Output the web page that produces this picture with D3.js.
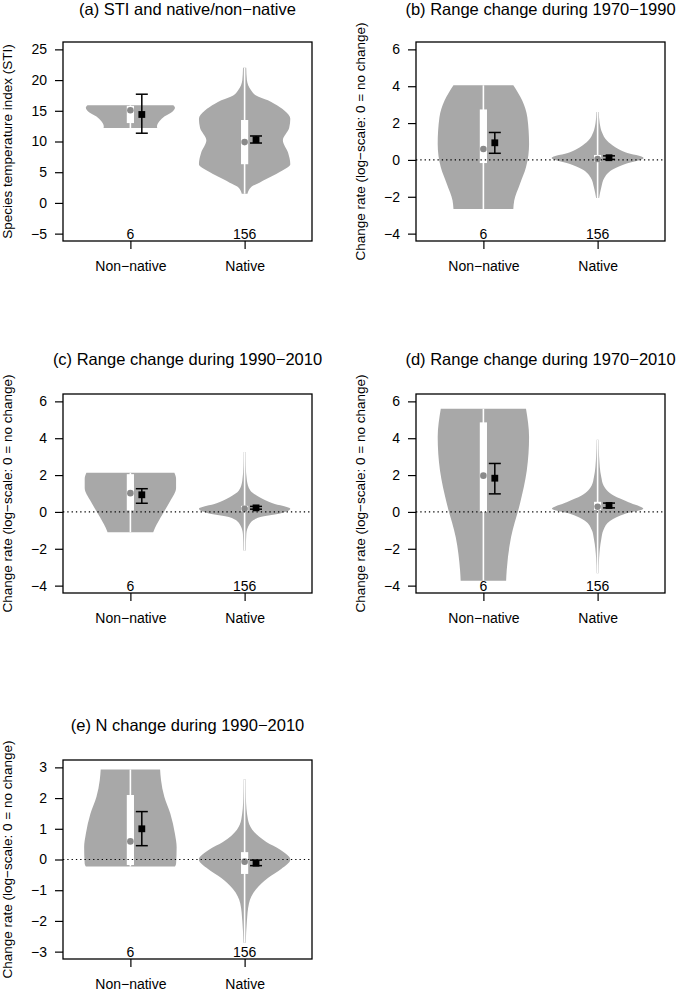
<!DOCTYPE html>
<html>
<head>
<meta charset="utf-8">
<script src="https://cdn.jsdelivr.net/npm/d3@7"></script>
<style>
    body { margin: 0; background: #fff; }
    text { font-family: "Liberation Sans", Arial, Helvetica, sans-serif; fill: #000; }
</style>
</head>
<body>
<div id="chart"></div>
<script>
const categories = ["Non-native", "Native"]
const counts = [6, 156]

const titles = [
    "(a) STI and native/non\u2212native",
    "(b) Range change during 1970\u22121990",
    "(c) Range change during 1990\u22122010",
    "(d) Range change during 1970\u22122010",
    "(e) N change during 1990\u22122010"
]
const yLabels = [
    "Species temperature index (STI)",
    "Change rate (log\u2212scale: 0 = no change)",
    "Change rate (log\u2212scale: 0 = no change)",
    "Change rate (log\u2212scale: 0 = no change)",
    "Change rate (log\u2212scale: 0 = no change)"
]
const yLimits = [[-5, 25], [-4, 6], [-4, 6], [-4, 6], [-3, 3]]
const yTicks = [
    [-5, 0, 5, 10, 15, 20, 25],
    [-4, -2, 0, 2, 4, 6],
    [-4, -2, 0, 2, 4, 6],
    [-4, -2, 0, 2, 4, 6],
    [-3, -2, -1, 0, 1, 2, 3]
]
const zeroLine = [false, true, true, true, true]

// violin outlines: [value, half-width in category units]
const violinNonNative = [
    [[12.2, 0.235], [12.5, 0.233], [13.3, 0.254], [14.1, 0.30], [14.9, 0.37], [15.5, 0.39], [15.9, 0.375]],
    [[-2.67, 0.262], [-2.2, 0.27], [-1.3, 0.32], [-0.4, 0.373], [0.87, 0.40], [2.3, 0.385], [3.22, 0.34], [4.05, 0.262]],
    [[-1.1, 0.20], [-0.86, 0.216], [-0.14, 0.28], [0.6, 0.35], [1.3, 0.40], [1.8, 0.40], [2.12, 0.385]],
    [[-3.73, 0.199], [-3.18, 0.204], [-1.37, 0.242], [0.44, 0.32], [2.25, 0.38], [4.06, 0.40], [5.6, 0.373]],
    [[-0.23, 0.39], [-0.14, 0.40], [0.4, 0.405], [0.84, 0.39], [1.49, 0.35], [2.04, 0.297], [2.59, 0.268], [2.93, 0.26]]
]
const violinNative = [
    [[1.5, 0.025], [2.6, 0.058], [3.3, 0.13], [3.9, 0.19], [4.7, 0.277], [5.3, 0.335], [6.3, 0.40], [8.2, 0.38],
        [10.2, 0.335], [12.2, 0.39], [13.7, 0.40], [15.0, 0.35], [15.6, 0.306], [16.7, 0.204], [17.5, 0.10],
        [18.3, 0.058], [20, 0.02], [22, 0.014]],
    [[-2.07, 0.013], [-1.5, 0.032], [-0.95, 0.061], [-0.49, 0.14], [-0.22, 0.242], [0.1, 0.403], [0.41, 0.242],
        [0.69, 0.155], [1.05, 0.081], [1.5, 0.038], [2.0, 0.018], [2.6, 0.01]],
    [[-2.1, 0.01], [-1.2, 0.015], [-0.65, 0.044], [-0.29, 0.131], [-0.07, 0.32], [0.17, 0.40], [0.47, 0.245],
        [0.8, 0.131], [1.16, 0.05], [1.7, 0.02], [2.5, 0.01], [3.25, 0.008]],
    [[-3.33, 0.008], [-2.5, 0.013], [-1.48, 0.032], [-0.97, 0.052], [-0.48, 0.111], [-0.1, 0.242], [0.17, 0.40],
        [0.53, 0.271], [0.89, 0.14], [1.43, 0.052], [1.89, 0.032], [3.0, 0.013], [3.92, 0.008]],
    [[-2.71, 0.01], [-2.0, 0.02], [-1.43, 0.038], [-0.96, 0.102], [-0.6, 0.204], [-0.31, 0.32], [0.0, 0.40],
        [0.32, 0.312], [0.57, 0.19], [0.97, 0.067], [1.3, 0.029], [2.0, 0.011], [2.61, 0.008]]
]

// boxes: [whisker low, q1, median, q3, whisker high]
const boxNonNative = [
    [12.2, 13.0, 15.1, 15.8, 15.9],
    [-2.67, -0.17, 0.59, 2.74, 4.05],
    [-1.1, 0.08, 1.02, 2.05, 2.12],
    [-3.73, 0.0, 1.97, 4.86, 5.6],
    [-0.23, -0.18, 0.59, 2.1, 2.93]
]
const boxNative = [
    [1.5, 6.3, 9.9, 13.5, 22],
    [-2.07, -0.08, 0.05, 0.27, 2.6],
    [-2.1, 0.03, 0.17, 0.33, 3.25],
    [-3.33, 0.1, 0.28, 0.55, 3.92],
    [-2.71, -0.47, -0.07, 0.24, 2.61]
]

// mean with error bar: [low, mean, high]
const meanNonNative = [
    [11.35, 14.4, 17.7],
    [0.36, 0.93, 1.49],
    [0.47, 0.93, 1.26],
    [0.98, 1.83, 2.63],
    [0.45, 1.0, 1.56]
]
const meanNative = [
    [9.75, 10.3, 10.9],
    [0.03, 0.12, 0.22],
    [0.15, 0.22, 0.3],
    [0.22, 0.35, 0.48],
    [-0.2, -0.12, -0.02]
]

const W = 677, H = 992
const plotW = 249, plotH = 199
const panelLeft = [63, 416, 63, 416, 63]
const panelTop = [42, 42, 394, 394, 760]
const violinColor = "#a8a8a8"
const medianColor = "#8a8a8a"

const svg = d3.select("#chart").append("svg")
    .attr("width", W)
    .attr("height", H)

titles.forEach((title, i) => {
    const g = svg.append("g")
        .attr("transform", "translate(" + panelLeft[i] + "," + panelTop[i] + ")")

    const x = d3.scaleLinear().domain([0.41, 2.59]).range([0, plotW])
    const lim = yLimits[i]
    const pad = (lim[1] - lim[0]) * 0.04
    const y = d3.scaleLinear().domain([lim[0] - pad, lim[1] + pad]).range([plotH, 0])

    const groups = [
        {c: 1, violin: violinNonNative[i], box: boxNonNative[i], mean: meanNonNative[i]},
        {c: 2, violin: violinNative[i], box: boxNative[i], mean: meanNative[i]}
    ]

    groups.forEach(grp => {
        const area = d3.area()
            .curve(d3.curveMonotoneY)
            .y(d => y(d[0]))
            .x0(d => x(grp.c - d[1]))
            .x1(d => x(grp.c + d[1]))
        g.append("path")
            .datum(grp.violin)
            .attr("d", area)
            .attr("fill", violinColor)

        // whisker
        g.append("line")
            .attr("x1", x(grp.c)).attr("x2", x(grp.c))
            .attr("y1", y(grp.box[0])).attr("y2", y(grp.box[4]))
            .attr("stroke", "#fff")
            .attr("stroke-width", 1.6)

        // box
        g.append("rect")
            .attr("x", x(grp.c) - 3.6)
            .attr("width", 7.2)
            .attr("y", y(grp.box[3]))
            .attr("height", y(grp.box[1]) - y(grp.box[3]))
            .attr("fill", "#fff")

        g.append("circle")
            .attr("cx", x(grp.c))
            .attr("cy", y(grp.box[2]))
            .attr("r", 3.3)
            .attr("fill", medianColor)
    })

    if (zeroLine[i]) {
        g.append("line")
            .attr("x1", 0).attr("x2", plotW)
            .attr("y1", y(0)).attr("y2", y(0))
            .attr("stroke", "#000")
            .attr("stroke-width", 1.2)
            .attr("stroke-dasharray", "1.3,3")
    }

    // mean and error bars
    groups.forEach(grp => {
        const cx = x(grp.c + 0.1)
        const eb = g.append("g")
        eb.append("line")
            .attr("x1", cx).attr("x2", cx)
            .attr("y1", y(grp.mean[0])).attr("y2", y(grp.mean[2]))
            .attr("stroke", "#000").attr("stroke-width", 1.5)
        ;[grp.mean[0], grp.mean[2]].forEach(v => {
            eb.append("line")
                .attr("x1", cx - 6).attr("x2", cx + 6)
                .attr("y1", y(v)).attr("y2", y(v))
                .attr("stroke", "#000").attr("stroke-width", 1.5)
        })
        eb.append("rect")
            .attr("x", cx - 3.4).attr("y", y(grp.mean[1]) - 3.4)
            .attr("width", 6.8).attr("height", 6.8)
            .attr("fill", "#000")
    })

    // sample sizes
    g.selectAll("text.n")
        .data(counts)
        .enter()
        .append("text")
        .attr("class", "n")
        .attr("x", (d, k) => x(k + 1))
        .attr("y", plotH - 2.5)
        .attr("text-anchor", "middle")
        .style("font-size", "14px")
        .text(d => d)

    // frame
    g.append("rect")
        .attr("width", plotW).attr("height", plotH)
        .attr("fill", "none")
        .attr("stroke", "#000")
        .attr("stroke-width", 1.3)

    // axes
    const yAxis = g.append("g")
        .call(d3.axisLeft(y).tickValues(yTicks[i]).tickSize(8).tickSizeOuter(0).tickPadding(8))
    yAxis.select(".domain").remove()
    yAxis.selectAll("line").attr("stroke-width", 1.2)
    yAxis.selectAll("text").style("font-size", "14px").attr("font-family", null)
        .text(d => d < 0 ? "\u2212" + Math.abs(d) : d)

    const xAxis = g.append("g")
        .attr("transform", "translate(0," + plotH + ")")
        .call(d3.axisBottom(x).tickValues([1, 2]).tickSize(8).tickSizeOuter(0).tickPadding(12)
            .tickFormat((d, k) => categories[k].replace("-", "\u2212")))
    xAxis.select(".domain").remove()
    xAxis.selectAll("line").attr("stroke-width", 1.2)
    xAxis.selectAll("text").style("font-size", "14px").attr("font-family", null)

    // titles
    g.append("text")
        .attr("x", plotW / 2)
        .attr("y", Math.max(-29.5, 15 - panelTop[i]))
        .attr("text-anchor", "middle")
        .style("font-size", "16.5px")
        .text(title)

    g.append("text")
        .attr("transform", "rotate(-90)")
        .attr("x", -plotH / 2)
        .attr("y", -50.7)
        .attr("text-anchor", "middle")
        .style("font-size", "13.5px")
        .text(yLabels[i])
})
</script>
</body>
</html>
